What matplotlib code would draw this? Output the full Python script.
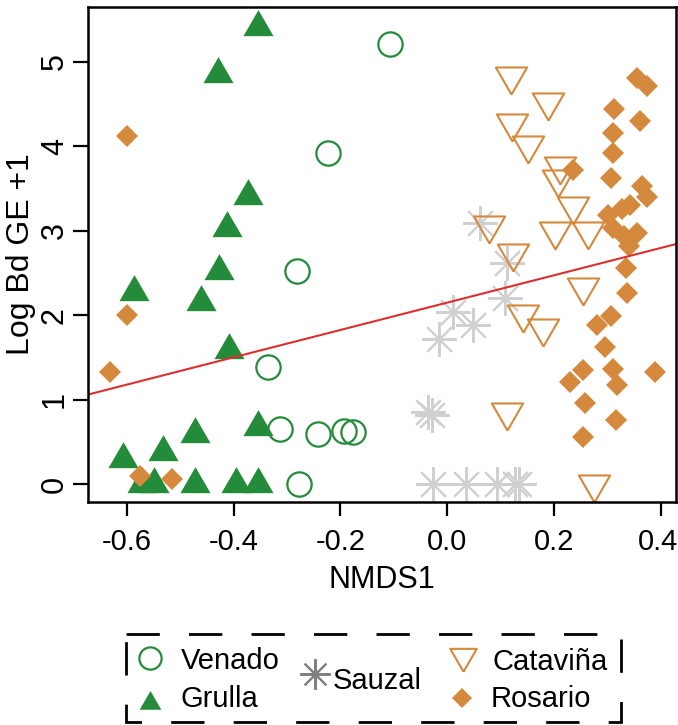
import numpy as np
import matplotlib.pyplot as plt
from matplotlib.patches import Rectangle
from matplotlib.transforms import ScaledTranslation

plt.rcParams['axes.unicode_minus'] = False
font = ['Liberation Sans', 'DejaVu Sans']

green = '#238b3a'
orange = '#d4893c'
star_grey = '#d0d0d0'

# values
venado_x = [-0.107, -0.223, -0.281, -0.336, -0.313, -0.242, -0.193, -0.176, -0.278]
venado_y = [5.21, 3.92, 2.52, 1.39, 0.65, 0.60, 0.63, 0.62, 0.0]

grulla_x = [-0.355, -0.430, -0.373, -0.413, -0.428, -0.587, -0.462, -0.409, -0.355,
            -0.473, -0.533, -0.608, -0.571, -0.550, -0.473, -0.396, -0.355]
grulla_y = [5.41, 4.86, 3.41, 3.03, 2.53, 2.28, 2.16, 1.59, 0.68,
            0.59, 0.38, 0.30, 0.0, 0.0, 0.0, 0.0, 0.0]

sauzal_x = [0.062, 0.113, 0.109, 0.011, 0.049, -0.015, -0.035, -0.028,
            -0.026, 0.036, 0.094, 0.128, 0.135]
sauzal_y = [3.09, 2.62, 2.20, 2.04, 1.88, 1.72, 0.86, 0.82,
            0.0, 0.0, 0.0, 0.0, 0.0]

catavina_x = [0.120, 0.189, 0.122, 0.152, 0.212, 0.208, 0.236, 0.203, 0.265,
              0.079, 0.124, 0.143, 0.180, 0.255, 0.113, 0.276]
catavina_y = [4.83, 4.53, 4.28, 4.02, 3.77, 3.61, 3.29, 3.00, 3.00,
              3.07, 2.74, 2.01, 1.85, 2.34, 0.86, 0.0]

rosario_x = [-0.600, -0.599, -0.632, -0.575, -0.516,
             0.355, 0.375, 0.313, 0.362, 0.310, 0.311, 0.236, 0.308, 0.366, 0.375,
             0.302, 0.328, 0.343, 0.310, 0.332, 0.356, 0.340, 0.336, 0.338, 0.308,
             0.281, 0.296, 0.255, 0.231, 0.311, 0.319, 0.390, 0.259, 0.317, 0.255]
rosario_y = [4.12, 2.00, 1.33, 0.10, 0.06,
             4.81, 4.72, 4.44, 4.30, 4.16, 3.92, 3.72, 3.62, 3.53, 3.40,
             3.19, 3.26, 3.31, 3.03, 2.94, 2.97, 2.82, 2.56, 2.27, 1.99,
             1.88, 1.62, 1.35, 1.21, 1.37, 1.17, 1.33, 0.96, 0.76, 0.56]

# fitted line
line_intercept = 2.15
line_slope = 1.617

x_ticks = [-0.6, -0.4, -0.2, 0.0, 0.2, 0.4]
y_ticks = [0, 1, 2, 3, 4, 5]

# R style equilateral triangles (centred on the circumcentre)
tri_up = [(0, 1), (-0.866, -0.5), (0.866, -0.5), (0, 1)]
tri_down = [(0, -1), (-0.866, 0.5), (0.866, 0.5), (0, -1)]
asterisk = (8, 2, 0)

W, H = 678, 725
fig = plt.figure(figsize=(W / 100, H / 100), dpi=100)
ax = fig.add_axes([88 / W, 1 - 502 / H, (676 - 88) / W, (502 - 7) / H])

ax.plot(venado_x, venado_y, ls='none', marker='o', ms=17.5, mfc='none',
        mec=green, mew=1.6)
ax.plot(grulla_x, grulla_y, ls='none', marker=tri_up, ms=25, color=green, mew=0)
ax.plot(sauzal_x, sauzal_y, ls='none', marker=asterisk, ms=25, mec=star_grey, mew=1.5)
ax.plot(catavina_x, catavina_y, ls='none', marker=tri_down, ms=26, mfc='none',
        mec=orange, mew=1.5)
ax.plot(rosario_x, rosario_y, ls='none', marker='D', ms=11, color=orange, mew=0)
ax.axline((0, line_intercept), slope=line_slope, color='#dc2f2f', lw=1.5)

ax.set_xlim(-0.673, 0.429)
ax.set_ylim(-0.21, 5.65)
ax.tick_params(axis='x', length=10, width=1.6, pad=9)
ax.tick_params(axis='y', length=11, width=1.6, pad=2)
ax.set_xticks(x_ticks)
ax.set_xticklabels(['%.1f' % v for v in x_ticks], family=font, fontsize=21)
ax.set_yticks(y_ticks)
ax.set_yticklabels([str(v) for v in y_ticks], family=font, fontsize=22,
                   rotation=90, va='center')
# the last x label sits right at the figure edge, nudge it in a little
last = ax.get_xticklabels()[-1]
last.set_transform(last.get_transform() +
                   ScaledTranslation(-3 / 100, 0, fig.dpi_scale_trans))
for s in ax.spines.values():
    s.set_linewidth(1.8)

ax.set_xlabel('NMDS1', family=font, fontsize=22, labelpad=6)
ax.set_ylabel('Log Bd GE +1', family=font, fontsize=23, labelpad=3)

# legend drawn by hand in pixel coordinates
lax = fig.add_axes([0, 0, 1, 1], zorder=-1)
lax.set_xlim(0, W)
lax.set_ylim(H, 0)
lax.axis('off')
lax.add_patch(Rectangle((126, 634), 495, 88, fill=False, ec='black', lw=2,
                        ls=(0, (12, 10.5)), clip_on=False))

lax.plot([150], [658], marker='o', ms=16, mfc='none', mec=green, mew=1.6)
lax.plot([150], [703], marker=tri_up, ms=18, color=green, mew=0)
lax.plot([315], [674], marker=asterisk, ms=22, mec='#808080', mew=1.5)
lax.plot([463], [656], marker=tri_down, ms=22, mfc='none', mec=orange, mew=1.5)
lax.plot([462], [698], marker='D', ms=10, color=orange, mew=0)

lkw = dict(family=font, fontsize=21, va='center', ha='left')
lax.text(181, 661, 'Venado', **lkw)
lax.text(181, 699, 'Grulla', **lkw)
lax.text(333, 681, 'Sauzal', **lkw)
lax.text(492, 662, 'Cataviña', **lkw)
lax.text(491, 699, 'Rosario', **lkw)

fig.savefig('out.png', dpi=100)
